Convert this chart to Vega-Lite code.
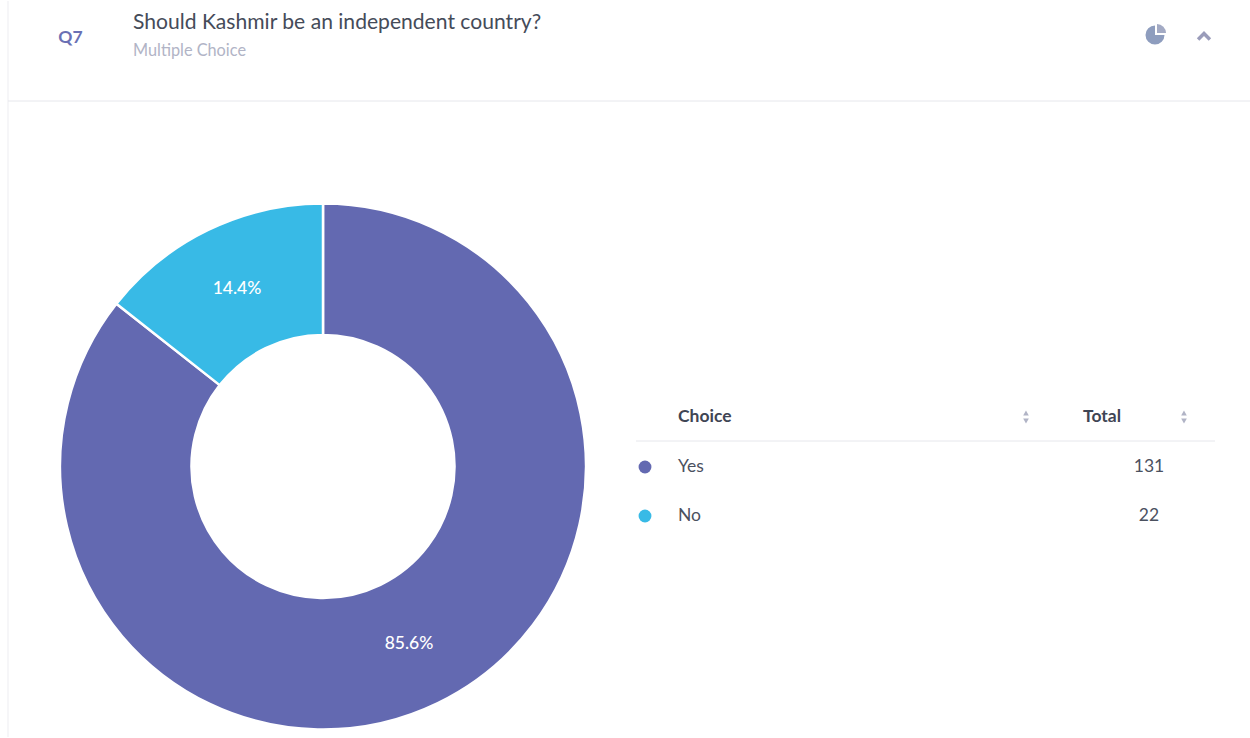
{
  "$schema": "https://vega.github.io/schema/vega-lite/v6.json",
  "autosize": {"type": "fit", "contains": "padding"},
  "width": 1250,
  "height": 738,
  "padding": 0,
  "background": "#ffffff",
  "view": {"stroke": null},
  "config": {"text": {"font": "Lato"}},
  "datasets": {
    "responses": [
      {"choice": "Yes", "total": 131, "share": "85.6%"},
      {"choice": "No", "total": 22, "share": "14.4%"}
    ],
    "columns": [
      {"column": "Choice"},
      {"column": "Total"}
    ],
    "sortArrows": [
      {"column": "Choice", "direction": "up"},
      {"column": "Choice", "direction": "down"},
      {"column": "Total", "direction": "up"},
      {"column": "Total", "direction": "down"}
    ],
    "heading": [{"id": "Q7", "question": "Should Kashmir be an independent country?", "kind": "Multiple Choice"}]
  },
  "resolve": {"scale": {"x": "independent", "y": "independent", "theta": "independent", "shape": "independent"}},
  "layer": [
    {
      "data": {"name": "heading"},
      "mark": {"type": "rule", "color": "#ededf1", "strokeWidth": 1},
      "encoding": {
        "x": {"datum": "card edge", "type": "nominal", "axis": null, "scale": {"type": "point", "domain": ["card edge"], "range": [8, 8]}}
      }
    },
    {
      "data": {"name": "heading"},
      "mark": {"type": "rule", "color": "#e6e7ec", "strokeWidth": 1},
      "encoding": {
        "x": {"datum": "start", "type": "nominal", "axis": null, "scale": {"type": "point", "domain": ["start", "end"], "range": [8, 1250], "padding": 0}},
        "x2": {"datum": "end"},
        "y": {"datum": "divider", "type": "nominal", "axis": null, "scale": {"type": "point", "domain": ["divider"], "range": [100, 100]}}
      }
    },
    {
      "data": {"name": "heading"},
      "mark": {"type": "text", "align": "center", "baseline": "middle", "fontSize": 17.5, "fontWeight": 700, "color": "#6a70b4"},
      "encoding": {
        "text": {"field": "id"},
        "x": {"datum": "id", "type": "nominal", "axis": null, "scale": {"type": "point", "domain": ["id"], "range": [70.5, 70.5]}},
        "y": {"datum": "id", "type": "nominal", "axis": null, "scale": {"type": "point", "domain": ["id"], "range": [36.5, 36.5]}}
      }
    },
    {
      "data": {"name": "heading"},
      "mark": {"type": "text", "align": "left", "baseline": "middle", "fontSize": 21.1, "color": "#454b59"},
      "encoding": {
        "text": {"field": "question"},
        "x": {"datum": "text", "type": "nominal", "axis": null, "scale": {"type": "point", "domain": ["text"], "range": [133, 133]}},
        "y": {"datum": "question", "type": "nominal", "axis": null, "scale": {"type": "point", "domain": ["question"], "range": [22, 22]}}
      }
    },
    {
      "data": {"name": "heading"},
      "mark": {"type": "text", "align": "left", "baseline": "middle", "fontSize": 16.3, "color": "#b1b4c6"},
      "encoding": {
        "text": {"field": "kind"},
        "x": {"datum": "text", "type": "nominal", "axis": null, "scale": {"type": "point", "domain": ["text"], "range": [133, 133]}},
        "y": {"datum": "kind", "type": "nominal", "axis": null, "scale": {"type": "point", "domain": ["kind"], "range": [50, 50]}}
      }
    },
    {
      "data": {"name": "heading"},
      "mark": {"type": "arc", "theta": 1.5708, "theta2": 6.2832, "innerRadius": 0, "outerRadius": 9.5, "fill": "#8e9dbe"},
      "encoding": {
        "x": {"datum": "pie icon", "type": "nominal", "axis": null, "scale": {"type": "point", "domain": ["pie icon"], "range": [1155, 1155]}},
        "y": {"datum": "pie icon", "type": "nominal", "axis": null, "scale": {"type": "point", "domain": ["pie icon"], "range": [34, 34]}}
      }
    },
    {
      "data": {"name": "heading"},
      "mark": {"type": "arc", "theta": 0, "theta2": 1.5708, "innerRadius": 0, "outerRadius": 9, "fill": "#a3aac4"},
      "encoding": {
        "x": {"datum": "pie wedge", "type": "nominal", "axis": null, "scale": {"type": "point", "domain": ["pie wedge"], "range": [1157, 1157]}},
        "y": {"datum": "pie wedge", "type": "nominal", "axis": null, "scale": {"type": "point", "domain": ["pie wedge"], "range": [32, 32]}}
      }
    },
    {
      "data": {"name": "heading"},
      "mark": {"type": "point", "shape": "M-1,0.5L0,-0.5L1,0.5", "filled": false, "size": 140, "strokeWidth": 3.5, "color": "#9a9cba", "opacity": 1},
      "encoding": {
        "x": {"datum": "collapse", "type": "nominal", "axis": null, "scale": {"type": "point", "domain": ["collapse"], "range": [1204, 1204]}},
        "y": {"datum": "collapse", "type": "nominal", "axis": null, "scale": {"type": "point", "domain": ["collapse"], "range": [35.5, 35.5]}}
      }
    },
    {
      "data": {"name": "responses"},
      "mark": {"type": "arc", "innerRadius": 131.5, "outerRadius": 263, "stroke": "#ffffff", "strokeWidth": 2.5},
      "encoding": {
        "theta": {"field": "total", "type": "quantitative", "stack": true},
        "order": {"field": "total", "sort": "descending"},
        "color": {"field": "choice", "type": "nominal", "legend": null, "scale": {"domain": ["Yes", "No"], "range": ["#6369b1", "#38bae6"]}},
        "x": {"datum": "donut", "type": "nominal", "axis": null, "scale": {"type": "point", "domain": ["donut"], "range": [323, 323]}},
        "y": {"datum": "donut", "type": "nominal", "axis": null, "scale": {"type": "point", "domain": ["donut"], "range": [465.5, 465.5]}}
      }
    },
    {
      "data": {"name": "responses"},
      "mark": {"type": "text", "radius": 197, "fontSize": 17.5, "fontWeight": 500, "color": "#ffffff", "align": "center", "baseline": "middle"},
      "encoding": {
        "theta": {"field": "total", "type": "quantitative", "stack": true},
        "order": {"field": "total", "sort": "descending"},
        "text": {"field": "share"},
        "x": {"datum": "donut", "type": "nominal", "axis": null, "scale": {"type": "point", "domain": ["donut"], "range": [323, 323]}},
        "y": {"datum": "donut", "type": "nominal", "axis": null, "scale": {"type": "point", "domain": ["donut"], "range": [465.5, 465.5]}}
      }
    },
    {
      "data": {"name": "columns"},
      "mark": {"type": "text", "align": "left", "baseline": "middle", "fontSize": 17.5, "fontWeight": 700, "color": "#3f4554"},
      "encoding": {
        "text": {"field": "column"},
        "x": {"field": "column", "type": "nominal", "axis": null, "scale": {"type": "point", "domain": ["Choice", "Total"], "range": [678, 1083], "padding": 0}},
        "y": {"datum": "header", "type": "nominal", "axis": null, "scale": {"type": "point", "domain": ["header"], "range": [416, 416]}}
      }
    },
    {
      "data": {"name": "sortArrows"},
      "mark": {"type": "point", "filled": true, "size": 32, "color": "#b1b4c6", "opacity": 1},
      "encoding": {
        "x": {"field": "column", "type": "nominal", "axis": null, "scale": {"type": "point", "domain": ["Choice", "Total"], "range": [1026, 1184], "padding": 0}},
        "y": {"field": "direction", "type": "nominal", "axis": null, "scale": {"type": "point", "domain": ["up", "down"], "range": [412, 420], "padding": 0}},
        "shape": {"field": "direction", "type": "nominal", "legend": null, "scale": {"domain": ["up", "down"], "range": ["triangle-up", "triangle-down"]}}
      }
    },
    {
      "data": {"name": "heading"},
      "mark": {"type": "rule", "color": "#e6e7ec", "strokeWidth": 1},
      "encoding": {
        "x": {"datum": "start", "type": "nominal", "axis": null, "scale": {"type": "point", "domain": ["start", "end"], "range": [636, 1215], "padding": 0}},
        "x2": {"datum": "end"},
        "y": {"datum": "rule", "type": "nominal", "axis": null, "scale": {"type": "point", "domain": ["rule"], "range": [440, 440]}}
      }
    },
    {
      "data": {"name": "responses"},
      "mark": {"type": "circle", "size": 165, "opacity": 1},
      "encoding": {
        "color": {"field": "choice", "type": "nominal", "legend": null, "scale": {"domain": ["Yes", "No"], "range": ["#6369b1", "#38bae6"]}},
        "x": {"datum": "marker", "type": "nominal", "axis": null, "scale": {"type": "point", "domain": ["marker"], "range": [645, 645]}},
        "y": {"field": "choice", "type": "nominal", "axis": null, "scale": {"type": "point", "domain": ["Yes", "No"], "range": [466, 515], "padding": 0}}
      }
    },
    {
      "data": {"name": "responses"},
      "mark": {"type": "text", "align": "left", "baseline": "middle", "fontSize": 17.5, "color": "#4b515f"},
      "encoding": {
        "text": {"field": "choice"},
        "x": {"datum": "label", "type": "nominal", "axis": null, "scale": {"type": "point", "domain": ["label"], "range": [678, 678]}},
        "y": {"field": "choice", "type": "nominal", "axis": null, "scale": {"type": "point", "domain": ["Yes", "No"], "range": [466, 515], "padding": 0}}
      }
    },
    {
      "data": {"name": "responses"},
      "mark": {"type": "text", "align": "center", "baseline": "middle", "fontSize": 17.5, "color": "#4b515f"},
      "encoding": {
        "text": {"field": "total", "type": "quantitative"},
        "x": {"datum": "total", "type": "nominal", "axis": null, "scale": {"type": "point", "domain": ["total"], "range": [1149, 1149]}},
        "y": {"field": "choice", "type": "nominal", "axis": null, "scale": {"type": "point", "domain": ["Yes", "No"], "range": [466, 515], "padding": 0}}
      }
    }
  ]
}
